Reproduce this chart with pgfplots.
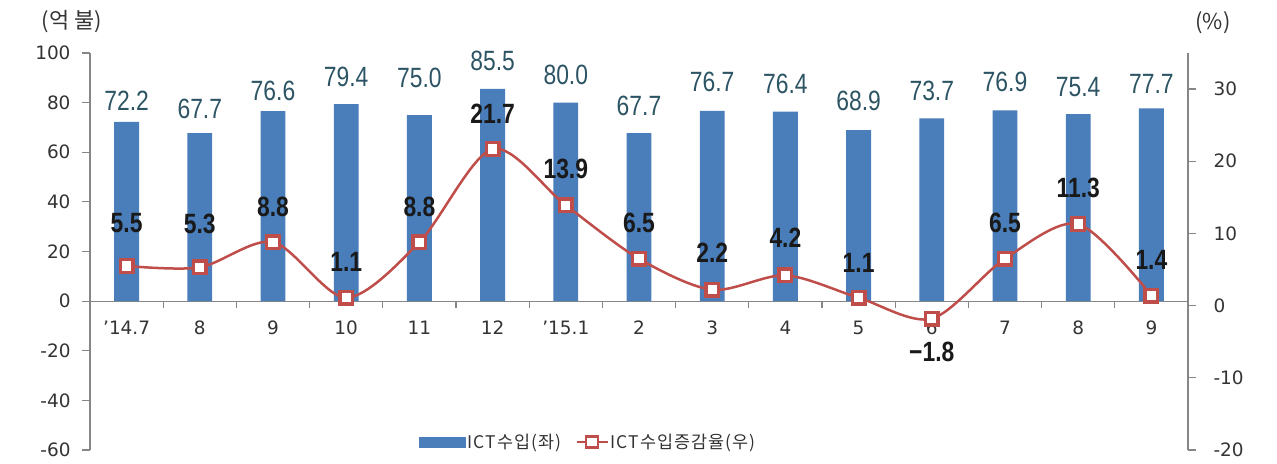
\documentclass[border=0pt]{standalone}
\usepackage{pgfplots}
\usepackage{pgfplotstable}
\pgfplotsset{compat=1.18}
\usepackage{fontspec}
\setmainfont{DejaVu Sans}
\newfontfamily\kr{Noto Sans CJK KR}
\newfontfamily\krsp[LetterSpace=6]{Noto Sans CJK KR}
\newfontfamily\cond[FakeStretch=0.82]{Liberation Sans}
\definecolor{barblue}{HTML}{4A7EBB}
\definecolor{linered}{HTML}{BF4D4A}
\definecolor{labteal}{HTML}{2C5464}
\definecolor{axisgray}{HTML}{868686}
\definecolor{textgray}{HTML}{333333}

\pgfplotstableread{
x v lab dy
0 72.2 72.2 21
1 67.7 67.7 24
2 76.6 76.6 20
3 79.4 79.4 27
4 75.0 75.0 37
5 85.5 85.5 28
6 80.0 80.0 28
7 67.7 67.7 27
8 76.7 76.7 29
9 76.4 76.4 28
10 68.9 68.9 29
11 73.7 73.7 27
12 76.9 76.9 28
13 75.4 75.4 27
14 77.7 77.7 24
}\bars

\pgfplotstableread{
x v lab dy
0 5.5 5.5 43
1 5.3 5.3 43
2 8.8 8.8 35
3 1.1 1.1 36
4 8.8 8.8 35
5 21.7 21.7 35
6 13.9 13.9 36
7 6.5 6.5 36
8 2.2 2.2 37
9 4.2 4.2 38
10 1.1 1.1 35
11 -1.8 −1.8 -33
12 6.5 6.5 36
13 11.3 11.3 36
14 1.4 1.4 36
}\growth

\pgfplotsset{
  common/.style={
    scale only axis, width=1098bp, height=397bp, at={(0,0)}, anchor=south west,
    xmin=-0.5, xmax=14.5, clip=false,
    axis line style={draw=axisgray, line width=1.2bp, -},
    tick align=outside,
    tick style={draw=axisgray, line width=1.2bp},
    major tick length=8bp, minor tick length=7bp,
    tick label style={font=\fontsize{18.5}{18.5}\selectfont, text=textgray},
    /pgf/number format/assume math mode=true,
  }
}

\begin{document}
\begin{tikzpicture}
\useasboundingbox (-90bp,-14bp) rectangle (1187bp,450bp);
\begin{axis}[common,
  ymin=-60, ymax=100,
  axis y line*=left, axis x line*=middle,
  ytick={-60,-40,...,100},
  xtick={0,...,14},
  xticklabels={'14.7,8,9,10,11,12,'15.1,2,3,4,5,6,7,8,9},
  minor xtick={0.5,1.5,...,13.5},
  major x tick style={draw=none},
  minor x tick style={draw=axisgray, line width=1.2bp},
  xticklabel style={yshift=-8bp},
  yticklabel style={xshift=-8bp},
]
\addplot[ybar, bar width=0.34, fill=barblue, draw=none] table[x=x, y=v] {\bars};
% value labels, placed above the bars (offset in px / 2.48125 px per unit)
\addplot[draw=none, mark=none, forget plot,
  point meta=explicit symbolic, nodes near coords,
  every node near coord/.append style={anchor=center,
     font=\cond\fontsize{28}{28}\selectfont, text=labteal, inner sep=0pt},
] table[x=x, y expr=\thisrow{v}+\thisrow{dy}/2.48125, meta=lab] {\bars};
\node[font=\kr\fontsize{22}{22}\selectfont, text=textgray] at (rel axis cs:-0.0164,1.078) {(억 불)};
\node[font=\kr\fontsize{22}{22}\selectfont, text=textgray] at (rel axis cs:1.0228,1.0756) {(\%)};
\end{axis}
\begin{axis}[common,
  ymin=-20, ymax=35,
  axis y line*=right, axis x line=none,
  ytick={-20,-10,...,30},
  yticklabel style={xshift=14bp},
  legend style={draw=none, fill=none, at={(0.454,0.02)}, anchor=center,
     font=\krsp\fontsize{17.5}{17.5}\selectfont, text=textgray,
     /tikz/every even column/.append style={column sep=12bp}},
  legend columns=2,
]
\addlegendimage{legend image code/.code={\fill[barblue] (0bp,-5bp) rectangle (46bp,5bp);}}
\addlegendentry{ICT수입(좌)}
\addplot[smooth, color=linered, line width=2.5bp,
  mark=square*, mark size=6.3bp,
  mark options={fill=white, draw=linered, line width=3.4bp, solid},
  legend image code/.code={
    \draw[linered, line width=2.5bp] (0bp,0bp) -- (31bp,0bp);
    \draw[linered, line width=2.5bp, fill=white] (9.5bp,-5.5bp) rectangle (21.5bp,5.5bp);},
] table[x=x, y=v] {\growth};
\addlegendentry{ICT수입증감율(우)}
% growth labels (offset in px / 7.218 px per unit)
\addplot[draw=none, mark=none, forget plot,
  point meta=explicit symbolic, nodes near coords,
  every node near coord/.append style={anchor=center,
     font=\cond\bfseries\fontsize{28}{28}\selectfont, text=black!90, inner sep=0pt},
] table[x=x, y expr=\thisrow{v}+\thisrow{dy}/7.218, meta=lab] {\growth};
\end{axis}
\end{tikzpicture}
\end{document}
